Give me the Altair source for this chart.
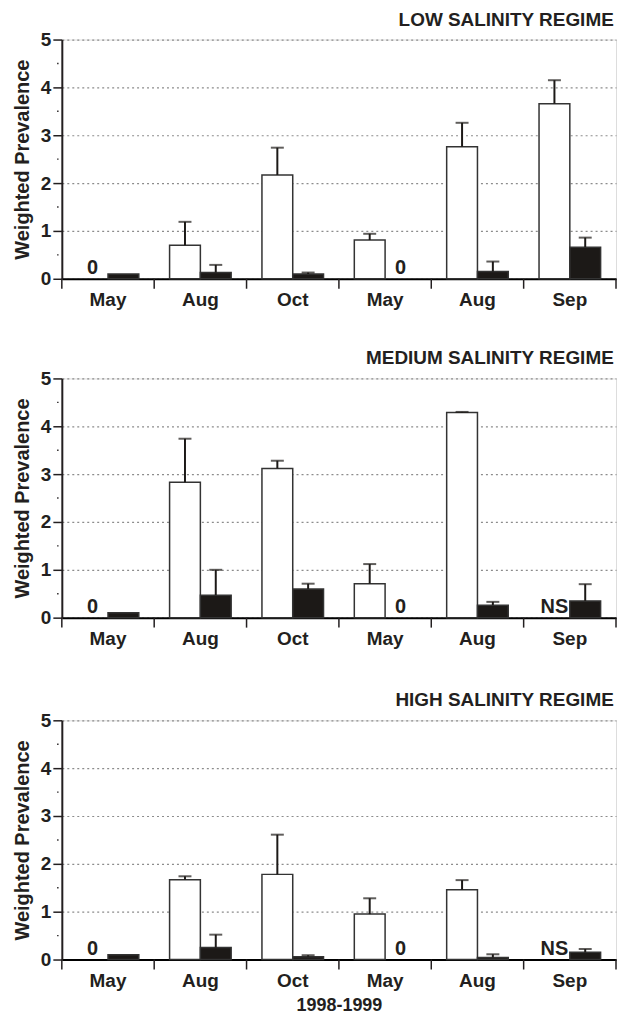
import altair as alt
import pandas as pd

groups = ["May-98", "Aug-98", "Oct-98", "May-99", "Aug-99", "Sep-99"]
series = ["open", "solid"]

panel_titles = ["LOW SALINITY REGIME", "MEDIUM SALINITY REGIME", "HIGH SALINITY REGIME"]

# open (white) bars
low_open = [None, 0.70, 2.17, 0.81, 2.76, 3.66]
low_open_err = [None, 1.19, 2.74, 0.94, 3.26, 4.15]
low_open_note = ["0", None, None, None, None, None]
# solid (black) bars
low_solid = [0.10, 0.13, 0.10, None, 0.15, 0.66]
low_solid_err = [None, 0.29, 0.13, None, 0.36, 0.86]
low_solid_note = [None, None, None, "0", None, None]

med_open = [None, 2.83, 3.12, 0.71, 4.29, None]
med_open_err = [None, 3.74, 3.28, 1.12, 4.30, None]
med_open_note = ["0", None, None, None, None, "NS"]
med_solid = [0.10, 0.47, 0.60, None, 0.26, 0.35]
med_solid_err = [None, 1.00, 0.71, None, 0.33, 0.70]
med_solid_note = [None, None, None, "0", None, None]

high_open = [None, 1.67, 1.78, 0.95, 1.46, None]
high_open_err = [None, 1.74, 2.61, 1.28, 1.66, None]
high_open_note = ["0", None, None, None, None, "NS"]
high_solid = [0.10, 0.25, 0.06, None, 0.04, 0.15]
high_solid_err = [None, 0.52, 0.09, None, 0.11, 0.22]
high_solid_note = [None, None, None, "0", None, None]

y_ticks = [0, 1, 2, 3, 4, 5]
minor_ticks = [0.5, 1.5, 2.5, 3.5, 4.5]

FONT = "Liberation Sans, Arial, Helvetica, sans-serif"
INK = "#231f20"
W, H = 556, 240


def build_df(o, oe, on, s, se, sn):
    rows = []
    for i, g in enumerate(groups):
        rows.append(dict(group=g, series="open", value=o[i], err=oe[i], note=on[i]))
        rows.append(dict(group=g, series="solid", value=s[i], err=se[i], note=sn[i]))
    return pd.DataFrame(rows)


def panel(df, title, show_xtitle):
    xscale = alt.Scale(domain=groups, paddingInner=0, paddingOuter=0)
    xaxis = alt.Axis(
        labelExpr="split(datum.label, '-')[0]",
        ticks=False,
        domainColor="black",
        domainWidth=2,
        labelFont=FONT,
        labelFontWeight="bold",
        labelFontSize=19,
        labelColor=INK,
        labelPadding=12,
        labelAngle=0,
        title="1998-1999" if show_xtitle else None,
        titleFont=FONT,
        titleFontWeight="bold",
        titleFontSize=18,
        titleColor=INK,
        titlePadding=6,
    )
    x = alt.X("group:N", scale=xscale, axis=xaxis)
    xo = alt.XOffset("series:N", sort=series,
                     scale=alt.Scale(domain=series, paddingInner=0, paddingOuter=0.5))
    yscale = alt.Scale(domain=[0, 5], nice=False)
    yaxis = alt.Axis(
        values=y_ticks,
        title="Weighted Prevalence",
        titleFont=FONT,
        titleFontWeight="bold",
        titleFontSize=20,
        titleColor=INK,
        titlePadding=8,
        labelFont=FONT,
        labelFontWeight="bold",
        labelFontSize=19,
        labelColor=INK,
        labelPadding=2,
        domainColor=INK,
        domainWidth=2,
        tickColor=INK,
        tickWidth=1.5,
        tickSize=9,
        grid=True,
        gridColor="#8c8c8c",
        gridDash=[2, 3],
        gridWidth=1.2,
    )
    base = alt.Chart(df)
    bars = base.transform_filter("isValid(datum.value)").mark_bar(
        stroke="#333333", strokeWidth=1.5
    ).encode(
        x=x,
        xOffset=xo,
        y=alt.Y("value:Q", scale=yscale, axis=yaxis),
        fill=alt.Fill("series:N", scale=alt.Scale(domain=series, range=["white", "#1c1917"]),
                      legend=None),
    )
    stems = base.transform_filter("isValid(datum.err)").mark_rule(
        color="#1c1917", strokeWidth=2
    ).encode(x=x, xOffset=xo, y="value:Q", y2="err:Q")
    caps = base.transform_filter("isValid(datum.err)").mark_tick(
        color="#1c1917", thickness=2, size=13, orient="horizontal"
    ).encode(x=x, xOffset=xo, y="err:Q")
    notes = base.transform_filter("isValid(datum.note)").mark_text(
        font=FONT, fontWeight="bold", fontSize=20, baseline="bottom", dy=-1, color=INK
    ).encode(x=x, xOffset=xo, y=alt.datum(0), text="note:N")

    tick_df = pd.DataFrame({"group": groups})
    xticks = alt.Chart(tick_df).mark_rule(color=INK, strokeWidth=1.5).encode(
        x=alt.X("group:N", scale=xscale, bandPosition=0, axis=xaxis),
        y=alt.value(H),
        y2=alt.value(H + 10),
    )
    xtick_end = alt.Chart(tick_df.tail(1)).mark_rule(color=INK, strokeWidth=1.5).encode(
        x=alt.X("group:N", scale=xscale, bandPosition=1, axis=xaxis),
        y=alt.value(H),
        y2=alt.value(H + 10),
    )
    minor = alt.Chart(pd.DataFrame({"m": minor_ticks})).mark_square(
        size=2, color=INK, opacity=1
    ).encode(x=alt.value(-4), y=alt.Y("m:Q", scale=yscale, axis=yaxis))

    return alt.layer(bars, stems, caps, notes, xticks, xtick_end, minor).properties(
        width=W,
        height=H,
        title=alt.TitleParams(
            text=title, anchor="end", font=FONT, fontWeight="bold", fontSize=19,
            color=INK, offset=4, dx=-3, dy=3,
        ),
    )


dfs = [
    build_df(low_open, low_open_err, low_open_note, low_solid, low_solid_err, low_solid_note),
    build_df(med_open, med_open_err, med_open_note, med_solid, med_solid_err, med_solid_note),
    build_df(high_open, high_open_err, high_open_note, high_solid, high_solid_err, high_solid_note),
]

top_two = alt.vconcat(
    panel(dfs[0], panel_titles[0], False),
    panel(dfs[1], panel_titles[1], False),
    spacing=38,
)

chart = alt.vconcat(
    top_two,
    panel(dfs[2], panel_titles[2], True),
    spacing=41,
).configure_view(stroke=None).configure(
    padding={"left": 3, "top": 0, "right": 0, "bottom": 0}, background="white"
)

chart.save("out.html", embed_options={"renderer": "svg", "actions": False})
